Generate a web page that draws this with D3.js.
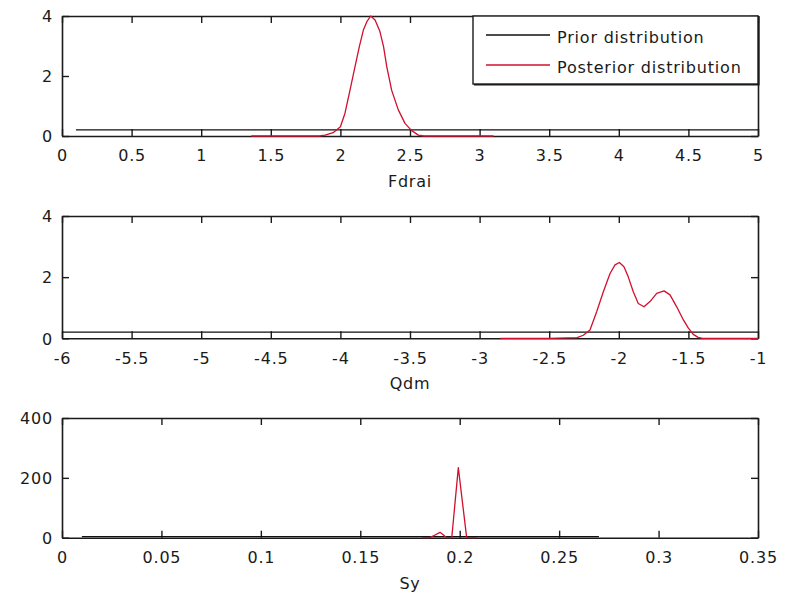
<!DOCTYPE html>
<html>
<head>
<meta charset="utf-8">
<script src="https://cdn.jsdelivr.net/npm/d3@7"></script>
<style>
  html, body { margin: 0; padding: 0; background: #fff; }
  svg text { font-family: "DejaVu Sans", sans-serif; font-size: 16px; fill: #1a1a1a; letter-spacing: 0.8px; }
</style>
</head>
<body>
<script>
// Parameter names for the three stacked panels
const paramNames = ["Fdrai", "Qdm", "Sy"];

// Axis limits and tick values
const xDomains = [[0, 5], [-6, -1], [0, 0.35]];
const yDomains = [[0, 4], [0, 4], [0, 400]];
const xTicks = [
  [0, 0.5, 1, 1.5, 2, 2.5, 3, 3.5, 4, 4.5, 5],
  [-6, -5.5, -5, -4.5, -4, -3.5, -3, -2.5, -2, -1.5, -1],
  [0, 0.05, 0.1, 0.15, 0.2, 0.25, 0.3, 0.35]
];
const xTickLabels = [
  ["0", "0.5", "1", "1.5", "2", "2.5", "3", "3.5", "4", "4.5", "5"],
  ["-6", "-5.5", "-5", "-4.5", "-4", "-3.5", "-3", "-2.5", "-2", "-1.5", "-1"],
  ["0", "0.05", "0.1", "0.15", "0.2", "0.25", "0.3", "0.35"]
];
const yTicks = [[0, 2, 4], [0, 2, 4], [0, 200, 400]];

// Uniform prior densities: support bounds and density level
const priorX = [[0.1, 5], [-6, -1], [0.01, 0.27]];
const priorY = [[1 / 4.9, 1 / 4.9], [0.2, 0.2], [1 / 0.26, 1 / 0.26]];

// Posterior densities
const postX1 = [1.36, 1.5, 1.7, 1.85, 1.89, 1.948, 2.0, 2.033, 2.069, 2.105, 2.136, 2.165, 2.19, 2.218,
                2.249, 2.284, 2.31, 2.333, 2.368, 2.416, 2.464, 2.512, 2.56, 2.6, 2.8, 3.1];
const postY1 = [0, 0, 0, 0, 0.03, 0.11, 0.31, 0.76, 1.53, 2.31, 2.98, 3.53, 3.81, 4.0,
                3.87, 3.48, 2.98, 2.31, 1.53, 0.87, 0.42, 0.18, 0.03, 0, 0, 0];
const postX2 = [-2.85, -2.5, -2.3, -2.255, -2.207, -2.159, -2.111, -2.063, -2.027, -1.996, -1.963,
                -1.932, -1.896, -1.86, -1.819, -1.776, -1.728, -1.675, -1.632, -1.584, -1.536,
                -1.5, -1.465, -1.43, -1.4, -1.2, -1.0];
const postY2 = [0, 0, 0.02, 0.1, 0.27, 0.87, 1.52, 2.12, 2.4, 2.48, 2.34,
                2.01, 1.52, 1.14, 1.03, 1.2, 1.47, 1.55, 1.42, 1.03, 0.6,
                0.33, 0.13, 0.03, 0, 0, 0];
const postX3 = [0.181, 0.185, 0.1876, 0.1901, 0.1917, 0.1934, 0.196, 0.1993, 0.2035, 0.205, 0.2087];
const postY3 = [0, 0, 9, 18, 10, 0, 0, 234, 0, 0, 0];

const postX = [postX1, postX2, postX3];
const postY = [postY1, postY2, postY3];

const legendLabels = ["Prior distribution", "Posterior distribution"];
const priorColor = "#111";
const postColor = "#d0102e";

const W = 788, H = 595;
const left = 62, right = 758;
const panelTops = [16, 216, 418];
const panelBottoms = [136, 338.3, 537.7];

const svg = d3.select("body").append("svg")
  .attr("width", W).attr("height", H);

paramNames.forEach((name, i) => {
  const x = d3.scaleLinear().domain(xDomains[i]).range([left, right]);
  const y = d3.scaleLinear().domain(yDomains[i]).range([panelBottoms[i], panelTops[i]]);
  const g = svg.append("g");

  const line = d3.line().x((d) => x(d[0])).y((d) => y(d[1]));

  // Data lines
  const prior = d3.zip(priorX[i], priorY[i]);
  const post = d3.zip(postX[i], postY[i]);

  // Box axes with inward ticks
  const bottom = g.append("g")
    .attr("transform", `translate(0,${panelBottoms[i]})`)
    .call(d3.axisBottom(x).tickValues(xTicks[i])
      .tickFormat((d, k) => xTickLabels[i][k])
      .tickSizeInner(-7).tickSizeOuter(0).tickPadding(14));
  const top = g.append("g")
    .attr("transform", `translate(0,${panelTops[i]})`)
    .call(d3.axisTop(x).tickValues(xTicks[i]).tickFormat("")
      .tickSizeInner(-7).tickSizeOuter(0));
  const leftAx = g.append("g")
    .attr("transform", `translate(${left},0)`)
    .call(d3.axisLeft(y).tickValues(yTicks[i]).tickFormat(d3.format("d"))
      .tickSizeInner(-7).tickSizeOuter(0).tickPadding(9));
  const rightAx = g.append("g")
    .attr("transform", `translate(${right},0)`)
    .call(d3.axisRight(y).tickValues(yTicks[i]).tickFormat("")
      .tickSizeInner(-7).tickSizeOuter(0));

  [bottom, top, leftAx, rightAx].forEach((ax) => {
    ax.attr("font-family", null).attr("font-size", null);
    ax.select(".domain").attr("stroke", "#1a1a1a").attr("stroke-width", 1.6);
    ax.selectAll(".tick line").attr("stroke", "#1a1a1a").attr("stroke-width", 1.4);
    ax.selectAll("text").attr("fill", "#1a1a1a");
  });
  leftAx.selectAll("text").attr("dy", "0.36em");

  g.append("path").datum(prior)
    .attr("d", line).attr("fill", "none")
    .attr("stroke", priorColor).attr("stroke-width", 1.2);
  g.append("path").datum(post)
    .attr("d", line).attr("fill", "none")
    .attr("stroke", postColor).attr("stroke-width", 1.3)
    .attr("stroke-linejoin", "round");

  // Parameter name under the axis
  g.append("text")
    .attr("x", (left + right) / 2)
    .attr("y", panelBottoms[i] + 51)
    .attr("text-anchor", "middle")
    .text(name);

  // Legend in the first panel
  if (i === 0) {
    const lx0 = 473, lx1 = 758, ly0 = panelTops[0], ly1 = 84;
    const lg = g.append("g");
    lg.append("rect")
      .attr("x", lx0).attr("y", ly0)
      .attr("width", lx1 - lx0).attr("height", ly1 - ly0)
      .attr("fill", "#fff").attr("stroke", "#1a1a1a").attr("stroke-width", 1.4);
    lg.append("path")
      .attr("d", `M${lx0 + 1},${ly1 + 0.8}H${lx1 + 0.8}V${ly0}`)
      .attr("fill", "none").attr("stroke", "#1a1a1a").attr("stroke-width", 1.6);
    const rows = [35, 65];
    const colors = [priorColor, postColor];
    rows.forEach((ry, k) => {
      lg.append("line")
        .attr("x1", 486).attr("x2", 550).attr("y1", ry).attr("y2", ry)
        .attr("stroke", colors[k]).attr("stroke-width", 1.3);
      lg.append("text")
        .attr("x", 557).attr("y", ry + 8)
        .text(legendLabels[k]);
    });
  }
});
</script>
</body>
</html>
